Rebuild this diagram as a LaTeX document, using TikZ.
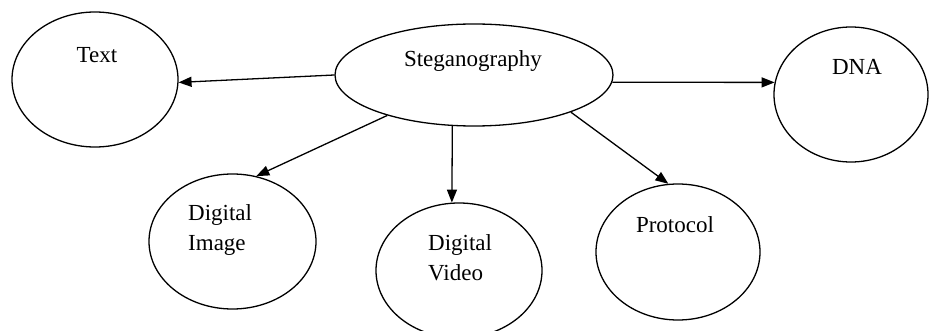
\documentclass[tikz,border=0pt]{standalone}
\usepackage{fontspec}
\setmainfont{Liberation Serif}
\usetikzlibrary{shapes.geometric,arrows.meta}
\begin{document}
\begin{tikzpicture}[x=1pt,y=-1pt,
  oval/.style={draw,ellipse,line width=1.3pt,inner sep=0pt},
  lbl/.style={font=\fontsize{23pt}{30pt}\selectfont,inner sep=0pt},
  conn/.style={line width=1.3pt,-{Triangle[length=13pt,width=10pt]}}]
\useasboundingbox (0,0) rectangle (929,331);
\node[oval,minimum width=166pt,minimum height=135pt] (txt) at (95,79.5) {};
\node[oval,minimum width=278pt,minimum height=102pt] (steg) at (474,75) {};
\node[oval,minimum width=154pt,minimum height=135pt] (dna) at (851,94.5) {};
\node[oval,minimum width=167pt,minimum height=135pt] (img) at (232.5,241.5) {};
\node[oval,minimum width=166pt,minimum height=135pt] (vid) at (459,270.5) {};
\node[oval,minimum width=164pt,minimum height=136pt] (proto) at (678,252) {};
\node[lbl] (ltxt) at (97,55) {Text};
\node[lbl] (lsteg) at (473,61) {Steganography};
\node[lbl] (ldna) at (857,67) {DNA};
\node[lbl,align=left,anchor=west] (limg) at (188,230) {Digital\\Image};
\node[lbl,align=left,anchor=west] (lvid) at (428,258) {Digital\\Video};
\node[lbl] (lproto) at (675,225) {Protocol};
\draw[conn] (steg.180) -- (txt.-2);
\draw[conn] (steg.-3) -- (dna.171);
\draw[conn] (steg.205) -- (img.70);
\draw[conn] (steg.247.4) -- (vid.96);
\draw[conn] (steg.-21) -- (proto.98);
\end{tikzpicture}
\end{document}
